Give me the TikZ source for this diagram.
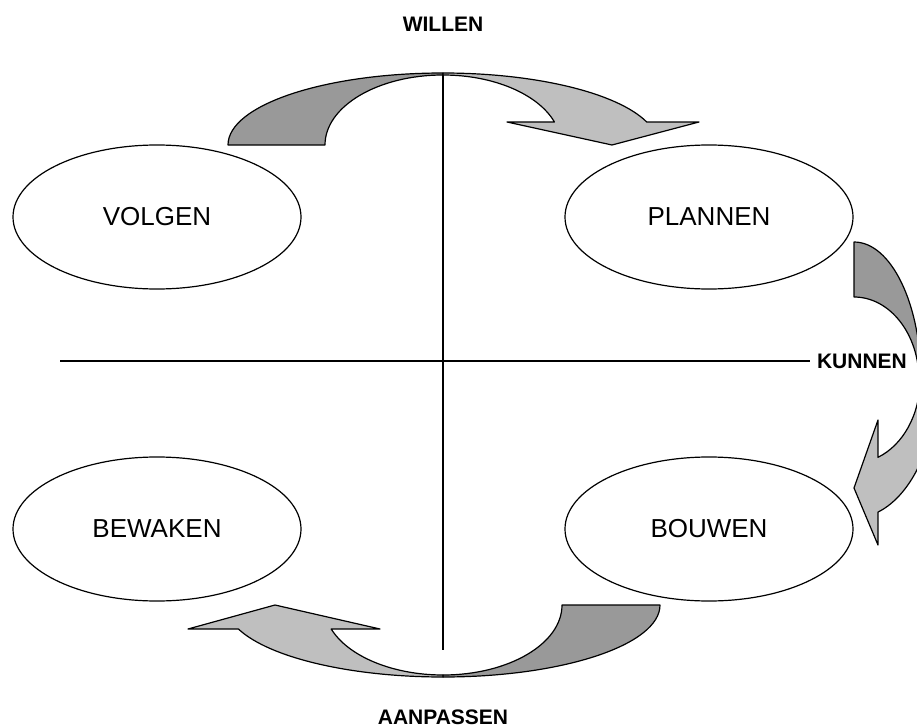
\documentclass[tikz,border=0pt]{standalone}
\usepackage{fontspec}
\setmainfont{Liberation Sans}
\usetikzlibrary{shapes.geometric}

\tikzset{
  oval/.style={draw, ellipse, minimum width=144pt, minimum height=72pt, inner sep=0pt,
    font=\fontsize{13}{15}\selectfont},
  axislabel/.style={font=\bfseries\fontsize{10.5}{12}\selectfont},
  darkband/.style={draw, fill=black!40, line join=round},
  lightband/.style={draw, fill=black!25, line join=round},
}

\begin{document}
\begin{tikzpicture}[x=0.5pt, y=-0.5pt, node distance=276pt, line width=0.6pt]
  \useasboundingbox (0,0) rectangle (917,728);

  % centres of the curved arrows
  \coordinate (wc) at (443,145);
  \coordinate (ac) at (443,605);
  \coordinate (kc) at (854,380);

  % top arrow
  \filldraw[darkband] (228,145) arc[start angle=180, end angle=270, x radius=215, y radius=72]
    -- (443,75) arc[start angle=270, end angle=180, x radius=118, y radius=70] -- cycle;
  \filldraw[lightband] (443,73) arc[start angle=270, end angle=341.4, x radius=215, y radius=72]
    -- (699,122) -- (612,145) -- (507,122)
    -- ([shift={(340.8:118 and 70)}]wc) arc[start angle=340.8, end angle=270, x radius=118, y radius=70] -- cycle;

  % right arrow
  \filldraw[darkband] (854,242) arc[start angle=270, end angle=360, x radius=67, y radius=138]
    -- (919,380) arc[start angle=360, end angle=270, x radius=65, y radius=83] -- cycle;
  \filldraw[lightband] (937,380) arc[start angle=0, end angle=73.2, x radius=83, y radius=138]
    -- (878,545) -- (854,488) -- (878,420)
    -- ([shift={(68.7:66 and 83)}]kc) arc[start angle=68.7, end angle=0, x radius=66, y radius=83] -- cycle;

  % bottom arrow
  \filldraw[darkband] (660,605) arc[start angle=0, end angle=90, x radius=217, y radius=72]
    -- (443,675) arc[start angle=90, end angle=0, x radius=119, y radius=70] -- cycle;
  \filldraw[lightband] (443,677) arc[start angle=90, end angle=160.5, x radius=217, y radius=72]
    -- (188,629) -- (275,605) -- (380,629)
    -- ([shift={(159.95:119 and 70)}]ac) arc[start angle=159.95, end angle=90, x radius=119, y radius=70] -- cycle;

  % quadrants
  \node[oval] (volgen) at (157,217) {VOLGEN};
  \node[oval, right of=volgen] (plannen) {PLANNEN};
  \node[oval, below of=volgen, yshift=120pt] (bewaken) {BEWAKEN};
  \node[oval, right of=bewaken] (bouwen) {BOUWEN};

  \node[axislabel] (willen) at (443,24) {WILLEN};
  \node[axislabel] (aanpassen) at (443,717) {AANPASSEN};
  \node[axislabel] (kunnen) at (862,361) {KUNNEN};

  \coordinate (top) at (443,75);
  \coordinate (bottom) at (443,650);
  \coordinate (left) at (60,361);

  \draw (top) -- (bottom);
  \draw (left) -- (kunnen.west);
\end{tikzpicture}
\end{document}
